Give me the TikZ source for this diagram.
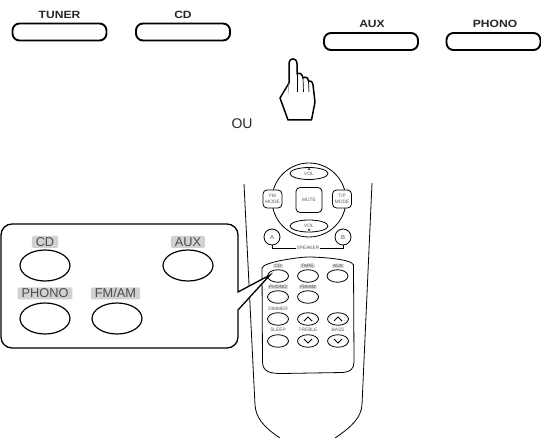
\documentclass[tikz,border=0pt]{standalone}
\usepackage{fontspec}
\setmainfont{Liberation Sans}
\usetikzlibrary{shapes.geometric}
\tikzset{
  frontbtn/.style={draw, line width=1.9pt, rounded corners=7pt, minimum width=94pt, minimum height=17pt, inner sep=0pt},
  frontlbl/.style={font=\bfseries\fontsize{10.5}{10.5}\selectfont, xscale=1.15, inner sep=0pt, text=black!85},
  bigbtn/.style={draw, ellipse, line width=1.2pt, minimum width=50pt, minimum height=31pt, inner sep=0pt},
  biglbl/.style={fill=black!18, rounded corners=1.5pt, font=\fontsize{12.8}{13}\selectfont, text=black!70, inner xsep=4pt, inner ysep=1.5pt, text height=9pt, text depth=0pt},
  smallbtn/.style={draw, ellipse, line width=.8pt, minimum width=21pt, minimum height=12.5pt, inner sep=0pt},
  smalllbl/.style={font=\fontsize{4.8}{5}\selectfont, text=black!65, inner sep=.6pt},
  greylbl/.style={smalllbl, fill=black!15, inner xsep=1.5pt},
  modebtn/.style={draw, line width=.8pt, rounded corners=4pt, fill=white, inner sep=0pt, align=center, font=\fontsize{4.8}{5.5}\selectfont, text=black!65},
  outline/.style={line width=.8pt}
}
\begin{document}
\begin{tikzpicture}[x=1pt, y=-1pt]
\useasboundingbox (0,0) rectangle (541,438);
% front panel keys
\node[frontbtn] (tuner) at (59.5,32) {};
\node[frontbtn] (cd) at (183,32) {};
\node[frontbtn] (aux) at (371,41.5) {};
\node[frontbtn] (phono) at (493.5,41.5) {};
\node[frontlbl] (tunerlbl) at (59.5,14.5) {TUNER};
\node[frontlbl] (cdlbl) at (183,14.5) {CD};
\node[frontlbl] (auxlbl) at (372,24) {AUX};
\node[frontlbl] (phonolbl) at (495,24) {PHONO};
% hand
\draw[line width=1.5pt, line join=round] (289,83) -- (289,64) .. controls (289,57) and (297,57) .. (297,64)
  -- (297,74) .. controls (300,72) and (302,74) .. (303,78) .. controls (306,76) and (308,78) .. (308.5,81)
  .. controls (311,80) and (312.5,82) .. (313,85) -- (315,102) -- (311.5,120) -- (288,120) -- (280,98) -- cycle;
\draw[line width=.7pt] (297,74) -- (297,92);
\draw[line width=.7pt] (303,78) -- (303.5,92);
\draw[line width=.7pt] (308.5,81) -- (309,92);
\draw[line width=.5pt, black!50] (289,83) -- (288,94);
\node[font=\fontsize{14}{14}\selectfont, text=black!85, inner sep=0pt] (ou) at (242,124) {OU};
% remote body
\draw[outline] (244,184) -- (255,405) .. controls (256,417) and (262,426) .. (280,438);
\draw[outline] (372,183) -- (362,405) .. controls (361,417) and (353,426) .. (335,438);
\node[draw, circle, outline, minimum size=74pt, inner sep=0pt] (ring) at (309,200) {};
\node[draw, ellipse, outline, fill=white, minimum width=38pt, minimum height=12pt, inner sep=0pt, font=\fontsize{4.8}{5}\selectfont, text=black!65] (volup) at (309,173.5) {VOL};
\node[draw, ellipse, outline, fill=white, minimum width=38pt, minimum height=12pt, inner sep=0pt, font=\fontsize{4.8}{5}\selectfont, text=black!65] (voldown) at (309,226) {VOL};
\fill[black!70] (307.5,170) -- (310.5,170) -- (309,167.5) -- cycle;
\fill[black!70] (307.5,229) -- (310.5,229) -- (309,231.5) -- cycle;
\node[modebtn, minimum width=19pt, minimum height=18pt] (fmmode) at (272.5,199) {FM\\MODE};
\node[modebtn, minimum width=19pt, minimum height=18pt] (tpmode) at (342,199) {T/P\\MODE};
\node[modebtn, minimum width=26pt, minimum height=25pt] (mute) at (309,200) {MUTE};
\node[draw, circle, outline, fill=white, minimum size=16pt, inner sep=0pt, font=\fontsize{6}{6}\selectfont, text=black!65] (spka) at (272,237) {A};
\node[draw, circle, outline, fill=white, minimum size=16pt, inner sep=0pt, font=\fontsize{6}{6}\selectfont, text=black!65] (spkb) at (343,237) {B};
\node[smalllbl] (spk) at (308,248) {SPEAKER};
\draw[outline] (spka) |- (spk);
\draw[outline] (spkb) |- (spk);
% keypad panel
\draw[outline] (262,268) .. controls (263,262) and (300,257) .. (308,257) .. controls (320,257) and (352,259) .. (353.5,265)
  -- (354,362) .. controls (354,369) and (350,372) .. (343,372.5) -- (282,373.5) .. controls (270,373.5) and (263,372) .. (262.5,362) -- cycle;
\node[greylbl] (kcdlbl) at (278,266) {CD};
\node[greylbl] (ktapelbl) at (307.5,266) {TAPE};
\node[greylbl] (kauxlbl) at (338,266) {AUX};
\node[smallbtn] (kcd) at (278,276) {};
\node[smallbtn] (ktape) at (308,276) {};
\node[smallbtn] (kaux) at (337.5,276) {};
\node[greylbl] (kphonolbl) at (278,287) {PHONO};
\node[greylbl] (kfmamlbl) at (308,287) {FM/AM};
\node[smallbtn] (kphono) at (278,297) {};
\node[smallbtn] (kfmam) at (308,297) {};
\node[smalllbl] (kdimmerlbl) at (278,309) {DIMMER};
\node[smallbtn] (kdimmer) at (278,319) {};
\node[smallbtn] (ktrebleup) at (308,319) {};
\node[smallbtn] (kbassup) at (338,319) {};
\node[smalllbl] (ksleeplbl) at (278,330) {SLEEP};
\node[smalllbl] (ktreblelbl) at (308,330) {TREBLE};
\node[smalllbl] (kbasslbl) at (338,330) {BASS};
\node[smallbtn] (ksleep) at (278,341) {};
\node[smallbtn] (ktrebledown) at (308,341) {};
\node[smallbtn] (kbassdown) at (338,341) {};
\draw[outline] (304,321) -- (308,317) -- (312,321);
\draw[outline] (334,321) -- (338,317) -- (342,321);
\draw[outline] (304,339) -- (308,343) -- (312,339);
\draw[outline] (334,339) -- (338,343) -- (342,339);
% enlarged callout
\draw[line width=1.3pt, fill=white, line join=miter] (270,275) -- (238,292) [rounded corners=11pt] -- (238,224) -- (1,224) -- (1,348) -- (238,348) [sharp corners] -- (238,310) -- cycle;
\node[biglbl] (bcdlbl) at (45,242) {CD};
\node[biglbl] (bauxlbl) at (188,242) {AUX};
\node[bigbtn] (bcd) at (45,265.5) {};
\node[bigbtn] (baux) at (188,265.5) {};
\node[biglbl] (bphonolbl) at (45,293.5) {PHONO};
\node[biglbl] (bfmamlbl) at (115.5,293.5) {FM/AM};
\node[bigbtn] (bphono) at (45,318.5) {};
\node[bigbtn] (bfmam) at (117,318.5) {};
\end{tikzpicture}
\end{document}
